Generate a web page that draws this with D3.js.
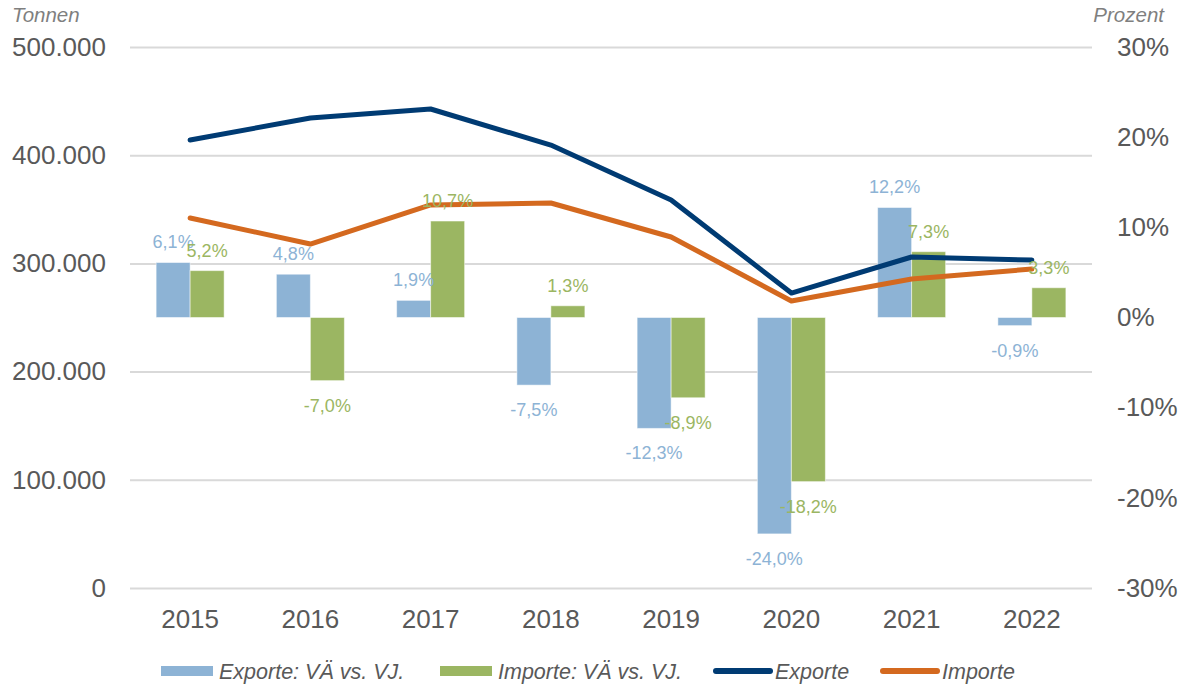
<!DOCTYPE html>
<html>
<head>
<meta charset="utf-8">
<script src="https://cdn.jsdelivr.net/npm/d3@7"></script>
<style>
  body { margin: 0; background: #fff; }
  svg { font-family: "Liberation Sans", Arial, sans-serif; }
</style>
</head>
<body>
<div id="chart"></div>
<script>
// data
const years = ["2015", "2016", "2017", "2018", "2019", "2020", "2021", "2022"];
const exporte = [414000, 434400, 442700, 409400, 358600, 272600, 305900, 303100];
const importe = [342000, 317900, 354000, 355800, 324400, 265300, 285600, 294800];
const exportChange = [6.1, 4.8, 1.9, -7.5, -12.3, -24.0, 12.2, -0.9];
const importChange = [5.2, -7.0, 10.7, 1.3, -8.9, -18.2, 7.3, 3.3];
const tonTicks = [0, 100000, 200000, 300000, 400000, 500000];
const pctTicks = [-0.3, -0.2, -0.1, 0, 0.1, 0.2, 0.3];

const width = 1179, height = 685;
const plotLeft = 130, plotRight = 1092, plotTop = 47, plotBottom = 588;

const grey = "#595959";
const blueBar = "#8DB3D5", greenBar = "#9BB662";
const navy = "#003B73", orange = "#D4691F";

const de = d3.formatLocale({ decimal: ",", thousands: ".", grouping: [3], currency: ["", " €"], minus: "-" });
const fmtTon = de.format(",");
const fmtPct = de.format(".0%");
const fmtLbl = d => de.format(".1f")(d) + "%";

const svg = d3.select("#chart").append("svg")
    .attr("width", width)
    .attr("height", height);

const x = d3.scaleBand().domain(years).range([plotLeft, plotRight]).padding(0);
const yL = d3.scaleLinear().domain([0, 500000]).range([plotBottom, plotTop]);
const yR = d3.scaleLinear().domain([-30, 30]).range([plotBottom, plotTop]);
const barW = 34;

// gridlines + left axis
const gLeft = svg.append("g")
    .attr("transform", `translate(${plotLeft},0)`)
    .call(d3.axisLeft(yL).tickValues(tonTicks).tickFormat(fmtTon)
        .tickSizeInner(-(plotRight - plotLeft)).tickSizeOuter(0).tickPadding(24));
gLeft.select(".domain").remove();
gLeft.selectAll(".tick line").attr("stroke", "#D9D9D9").attr("stroke-width", 2);
gLeft.selectAll(".tick text").attr("fill", grey).style("font-size", "26px");

// right axis
const gRight = svg.append("g")
    .attr("transform", `translate(${plotRight},0)`)
    .call(d3.axisRight(yR.copy().domain([-0.3, 0.3])).tickValues(pctTicks).tickFormat(fmtPct)
        .tickSize(0).tickPadding(25));
gRight.select(".domain").remove();
gRight.selectAll(".tick text").attr("fill", grey).style("font-size", "26px");

// x axis
const gX = svg.append("g")
    .attr("transform", `translate(0,${plotBottom})`)
    .call(d3.axisBottom(x).tickSize(0).tickPadding(0));
gX.select(".domain").remove();
gX.selectAll(".tick text").attr("fill", grey).style("font-size", "26px")
    .attr("dy", null).attr("y", 40);

// axis titles
svg.append("text").attr("x", 12).attr("y", 22)
    .attr("fill", "#7F7F7F").style("font-size", "20.5px").style("font-style", "italic")
    .text("Tonnen");
svg.append("text").attr("x", 1164).attr("y", 22).attr("text-anchor", "end")
    .attr("fill", "#7F7F7F").style("font-size", "20.5px").style("font-style", "italic")
    .text("Prozent");

// bars
const barSeries = [
    { vals: exportChange, color: blueBar, off: -barW },
    { vals: importChange, color: greenBar, off: 0 }
];
barSeries.forEach(s => {
    svg.append("g").selectAll("rect")
        .data(s.vals)
        .join("rect")
        .attr("x", (d, i) => x(years[i]) + x.bandwidth() / 2 + s.off)
        .attr("y", d => yR(Math.max(d, 0)))
        .attr("width", barW)
        .attr("height", d => Math.abs(yR(d) - yR(0)))
        .attr("fill", s.color)
        .attr("stroke", "#fff")
        .attr("stroke-opacity", 0.5)
        .attr("stroke-width", 1);
});

// lines
const line = d3.line()
    .x((d, i) => x(years[i]) + x.bandwidth() / 2)
    .y(d => yL(d));
[[exporte, navy], [importe, orange]].forEach(([vals, c]) => {
    svg.append("path")
        .datum(vals)
        .attr("d", line)
        .attr("fill", "none")
        .attr("stroke", c)
        .attr("stroke-width", 5)
        .attr("stroke-linejoin", "round")
        .attr("stroke-linecap", "round");
});

// data labels
barSeries.forEach(s => {
    svg.append("g").selectAll("text")
        .data(s.vals)
        .join("text")
        .attr("x", (d, i) => x(years[i]) + x.bandwidth() / 2 + s.off + barW / 2)
        .attr("y", d => d >= 0 ? yR(d) - 14 : yR(d) + 31)
        .attr("text-anchor", "middle")
        .attr("fill", s.color)
        .style("font-size", "18px")
        .text(d => fmtLbl(d));
});

// legend
const legend = [
    { label: "Exporte: VÄ vs. VJ.", color: blueBar, type: "bar", x: 161 },
    { label: "Importe: VÄ vs. VJ.", color: greenBar, type: "bar", x: 440 },
    { label: "Exporte", color: navy, type: "line", x: 713 },
    { label: "Importe", color: orange, type: "line", x: 880 }
];
const lg = svg.append("g").selectAll("g")
    .data(legend)
    .join("g")
    .attr("transform", d => `translate(${d.x},671)`);
lg.filter(d => d.type === "bar").append("rect")
    .attr("x", 0).attr("y", -5).attr("width", 52).attr("height", 10)
    .attr("fill", d => d.color);
lg.filter(d => d.type === "line").append("line")
    .attr("x1", 3).attr("x2", 57).attr("y1", 0).attr("y2", 0)
    .attr("stroke", d => d.color).attr("stroke-width", 6).attr("stroke-linecap", "round");
lg.append("text")
    .attr("x", d => d.type === "bar" ? 58 : 62)
    .attr("y", 8)
    .attr("fill", grey)
    .style("font-size", "21.5px")
    .style("font-style", "italic")
    .text(d => d.label);
</script>
</body>
</html>
